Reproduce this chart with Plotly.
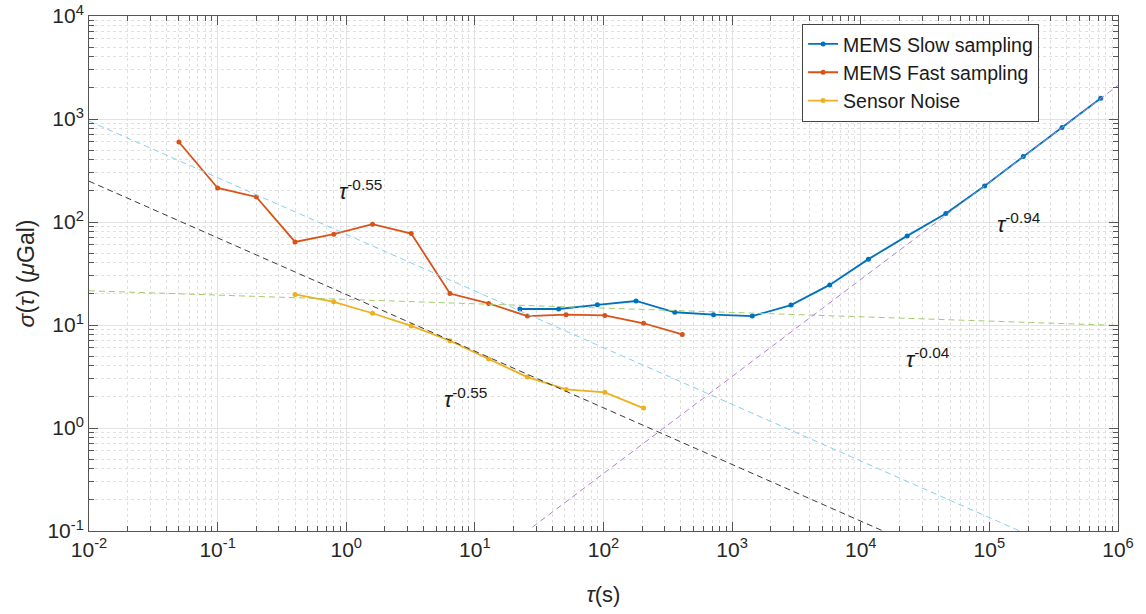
import plotly.graph_objects as go

# ---------------- data ----------------
slow_tau = [22.4, 44.8, 89.6, 179.2, 358.4, 716.8, 1433.6, 2867.2, 5734.4,
            11468.8, 22937.6, 45875.2, 91750.4, 183500.8, 367001.6, 734003.2]
slow_sigma = [14.3, 14.3, 15.7, 17.1, 13.3, 12.6, 12.2, 15.6, 24.5,
              43.6, 73.3, 121, 224, 432, 826, 1587]

fast_tau = [0.05, 0.1, 0.2, 0.4, 0.8, 1.6, 3.2, 6.4, 12.8, 25.6, 51.2,
            102.4, 204.8, 409.6]
fast_sigma = [598, 214, 175, 64.1, 76.2, 95.2, 77.3, 20.2, 16.2, 12.2, 12.6,
              12.4, 10.4, 8.1]

noise_tau = [0.4, 0.8, 1.6, 3.2, 6.4, 12.8, 25.6, 51.2, 102.4, 204.8]
noise_sigma = [19.8, 16.8, 13.0, 9.8, 7.03, 4.67, 3.12, 2.37, 2.22, 1.56]

# fitted power-law guide lines (end points)
fit_cyan_x = [0.01, 1e6]
fit_cyan_y = [955, 0.038]
fit_black_x = [0.01, 1e6]
fit_black_y = [249, 0.0099]
fit_green_x = [0.01, 1e6]
fit_green_y = [21.5, 9.9]
fit_purple_x = [28, 1e6]
fit_purple_y = [0.109, 2120]

x_tick_exps = [-2, -1, 0, 1, 2, 3, 4, 5, 6]
y_tick_exps = [-1, 0, 1, 2, 3, 4]

# annotation labels (text, log10 x, log10 y)
labels = [
    ("<i>τ</i><sup>-0.55</sup>", 0.107, 2.308),
    ("<i>τ</i><sup>-0.55</sup>", 0.924, 0.291),
    ("<i>τ</i><sup>-0.94</sup>", 5.232, 1.988),
    ("<i>τ</i><sup>-0.04</sup>", 4.524, 0.679),
]

# ---------------- styling ----------------
FONT = "Liberation Sans, Arial, Helvetica, sans-serif"
C_BLUE = "#0072BD"
C_ORANGE = "#D95319"
C_YELLOW = "#EDB120"

fig = go.Figure()

for name, xs, ys, col in [
    ("MEMS Slow sampling", slow_tau, slow_sigma, C_BLUE),
    ("MEMS Fast sampling", fast_tau, fast_sigma, C_ORANGE),
    ("Sensor Noise", noise_tau, noise_sigma, C_YELLOW),
]:
    fig.add_trace(go.Scatter(
        x=xs, y=ys, name=name, mode="lines+markers",
        line=dict(color=col, width=1.8),
        marker=dict(color=col, size=5),
    ))

for xs, ys, col in [
    (fit_cyan_x, fit_cyan_y, "#86CFF2"),
    (fit_black_x, fit_black_y, "#3a3a3a"),
    (fit_green_x, fit_green_y, "#A4CC6E"),
    (fit_purple_x, fit_purple_y, "#B47FD2"),
]:
    fig.add_trace(go.Scatter(
        x=xs, y=ys, mode="lines", showlegend=False, hoverinfo="skip",
        line=dict(color=col, width=1, dash="6px,4px"),
    ))

for txt, lx, ly in labels:
    fig.add_annotation(x=lx, y=ly, xref="x", yref="y", text=txt,
                       showarrow=False, font=dict(family=FONT, size=22, color="#1a1a1a"))


def minor_vals(e0, e1):
    return [m * 10 ** e for e in range(e0, e1) for m in range(2, 10)]


def sup(e):
    return "10<sup>%d</sup>" % e


axis_common = dict(
    type="log",
    automargin=False,
    ticklabeloverflow="allow",
    showline=True, linecolor="#555555", linewidth=1, mirror="allticks",
    ticks="inside", ticklen=9, tickcolor="#555555", tickwidth=1,
    showgrid=True, gridcolor="#e3e3e3", gridwidth=1,
    zeroline=False,
    tickfont=dict(family=FONT, size=21, color="#262626"),
)

fig.update_xaxes(
    **axis_common,
    range=[-2, 6],
    tickmode="array",
    tickvals=[10 ** e for e in x_tick_exps],
    ticktext=[sup(e) for e in x_tick_exps],
    minor=dict(tickmode="array", tickvals=minor_vals(-2, 6), ticks="inside",
               ticklen=5, tickcolor="#555555", showgrid=True,
               gridcolor="#e0e0e0", griddash="dot", gridwidth=1),
    title=dict(text="<i>τ</i>(s)", font=dict(family=FONT, size=22, color="#262626"),
               standoff=26),
)
fig.update_yaxes(
    **axis_common,
    range=[-1, 4],
    tickmode="array",
    tickvals=[10 ** e for e in y_tick_exps],
    ticktext=[sup(e) for e in y_tick_exps],
    minor=dict(tickmode="array", tickvals=minor_vals(-1, 4), ticks="inside",
               ticklen=5, tickcolor="#555555", showgrid=True,
               gridcolor="#e0e0e0", griddash="dot", gridwidth=1),
    title=dict(text="<i>σ</i>(<i>τ</i>) (<i>μ</i>Gal)",
               font=dict(family=FONT, size=23, color="#262626"), standoff=6),
)

fig.update_layout(
    width=1146, height=614,
    margin=dict(l=89, r=28, t=16, b=83, autoexpand=False),
    paper_bgcolor="white", plot_bgcolor="white",
    font=dict(family=FONT, color="#262626"),
    showlegend=True,
    legend=dict(
        x=0.693, y=0.985, xanchor="left", yanchor="top",
        bgcolor="white", bordercolor="#444444", borderwidth=1,
        font=dict(family=FONT, size=19.5, color="#1a1a1a"),
        tracegroupgap=0, itemwidth=30,
    ),
)

# remove the default 8px page margin so the figure fills the window exactly
fig.write_html(
    "out.html",
    config={"displayModeBar": False},
    post_script="document.body.style.margin='0';"
                "document.documentElement.style.overflow='hidden';",
)
